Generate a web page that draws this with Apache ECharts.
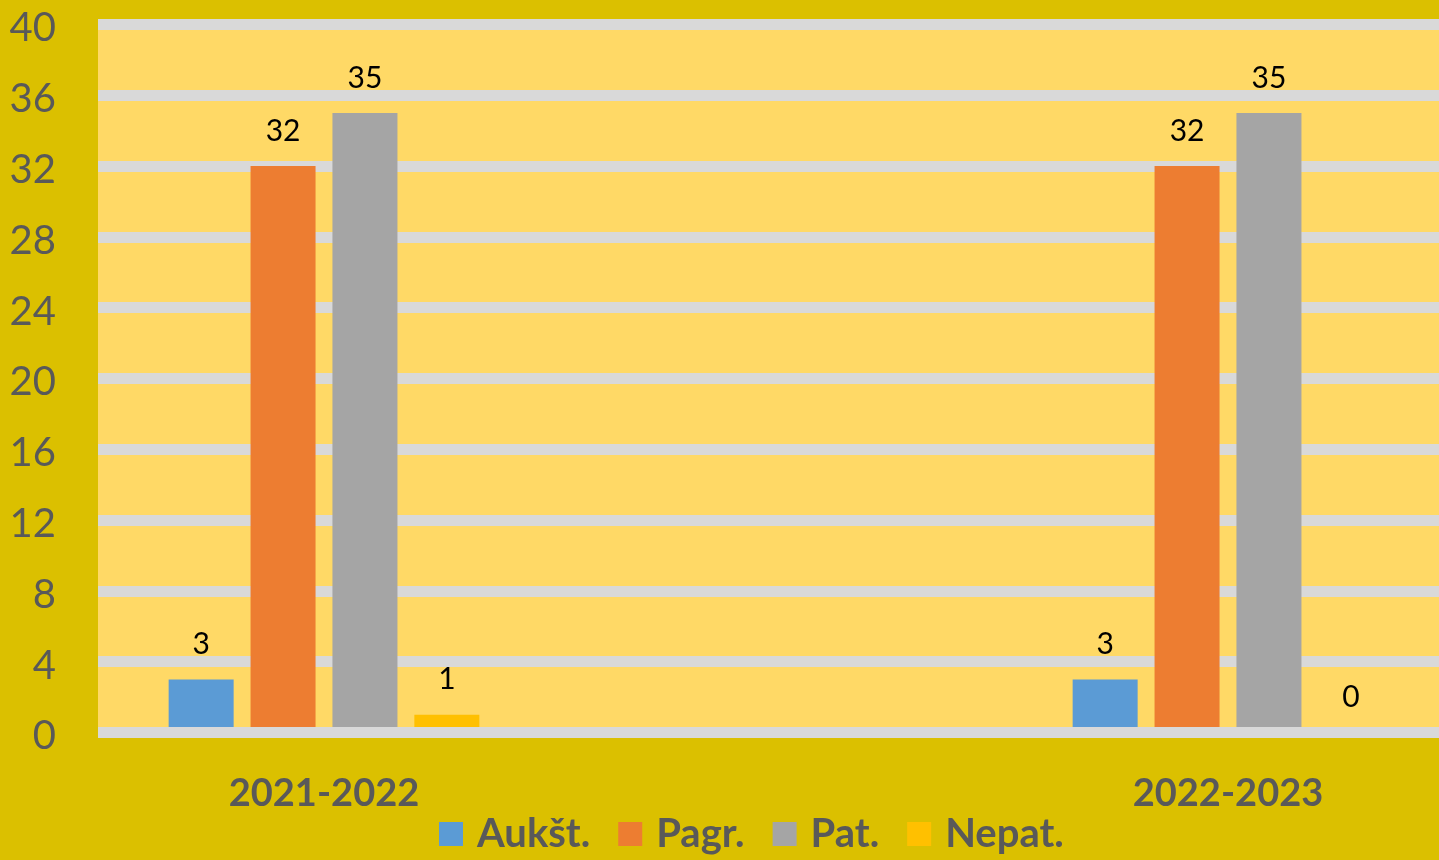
<!DOCTYPE html>
<html>
<head>
<meta charset="utf-8">
<script src="https://cdn.jsdelivr.net/npm/echarts@6/dist/echarts.min.js"></script>
<style>
html,body{margin:0;padding:0;background:#DBC000;}
#c{width:1439px;height:860px;}
</style>
</head>
<body>
<div id="c"></div>
<script>
const categories = ['2021-2022', '2022-2023'];
const seriesNames = ['Aukšt.', 'Pagr.', 'Pat.', 'Nepat.'];
const aukst = [3, 3];
const pagr = [32, 32];
const pat = [35, 35];
const nepat = [1, 0];
const yMin = 0, yMax = 40, yInterval = 4;

const colors = ['#5B9BD5', '#ED7D31', '#A5A5A5', '#FFC000'];
const values = [aukst, pagr, pat, nepat];
const FONT = 'Lato';
const TXT = '#595959';

const chart = echarts.init(document.getElementById('c'), null, {renderer: 'canvas'});
const option = {
  backgroundColor: '#DBC000',
  animation: false,
  color: colors,
  textStyle: {fontFamily: FONT},
  grid: [
    {left: 98, right: 0, top: 24.5, bottom: 127.5, show: true, backgroundColor: '#FFD966', borderWidth: 0},
    {left: 324, right: 211, top: 24.5, bottom: 127.5}
  ],
  xAxis: [
    {
      gridIndex: 0, type: 'category', data: categories, z: 10,
      axisLine: {show: true, lineStyle: {color: '#D9D9D9', width: 11, cap: 'butt'}},
      axisTick: {show: false}, axisLabel: {show: false}, splitLine: {show: false}
    },
    {
      gridIndex: 1, type: 'category', data: categories, boundaryGap: false,
      axisLine: {show: false}, axisTick: {show: false}, splitLine: {show: false},
      axisLabel: {color: TXT, fontFamily: FONT, fontWeight: 'bold', fontSize: 38, margin: 42}
    }
  ],
  yAxis: [
    {
      gridIndex: 0, type: 'value', min: yMin, max: yMax, interval: yInterval,
      axisLine: {show: false}, axisTick: {show: false},
      axisLabel: {
        color: TXT, fontFamily: FONT, fontSize: 40, margin: 42,
        formatter: v => '{a|' + v + '}',
        rich: {a: {color: TXT, fontFamily: FONT, fontSize: 40, padding: [8, 0, 0, 0]}}
      },
      splitLine: {show: true, lineStyle: {color: '#D9D9D9', width: 11, cap: 'butt'}}
    },
    {
      gridIndex: 1, type: 'value', min: yMin, max: yMax, interval: yInterval, show: false,
      splitLine: {show: false}
    }
  ],
  legend: {
    data: seriesNames,
    top: 809,
    left: 434,
    icon: 'rect',
    itemWidth: 24, itemHeight: 24, itemGap: 28,
    textStyle: {color: TXT, fontFamily: FONT, fontWeight: 'bold', fontSize: 40, padding: [0, 0, 0, 9]}
  },
  series: seriesNames.map((n, i) => ({
    name: n,
    type: 'bar',
    xAxisIndex: 1,
    yAxisIndex: 1,
    data: values[i],
    barWidth: 65,
    barGap: '26%',
    itemStyle: {color: colors[i]},
    label: {show: true, position: 'top', distance: 20, color: '#000', fontFamily: FONT, fontSize: 30}
  }))
};
chart.setOption(option);
</script>
</body>
</html>
